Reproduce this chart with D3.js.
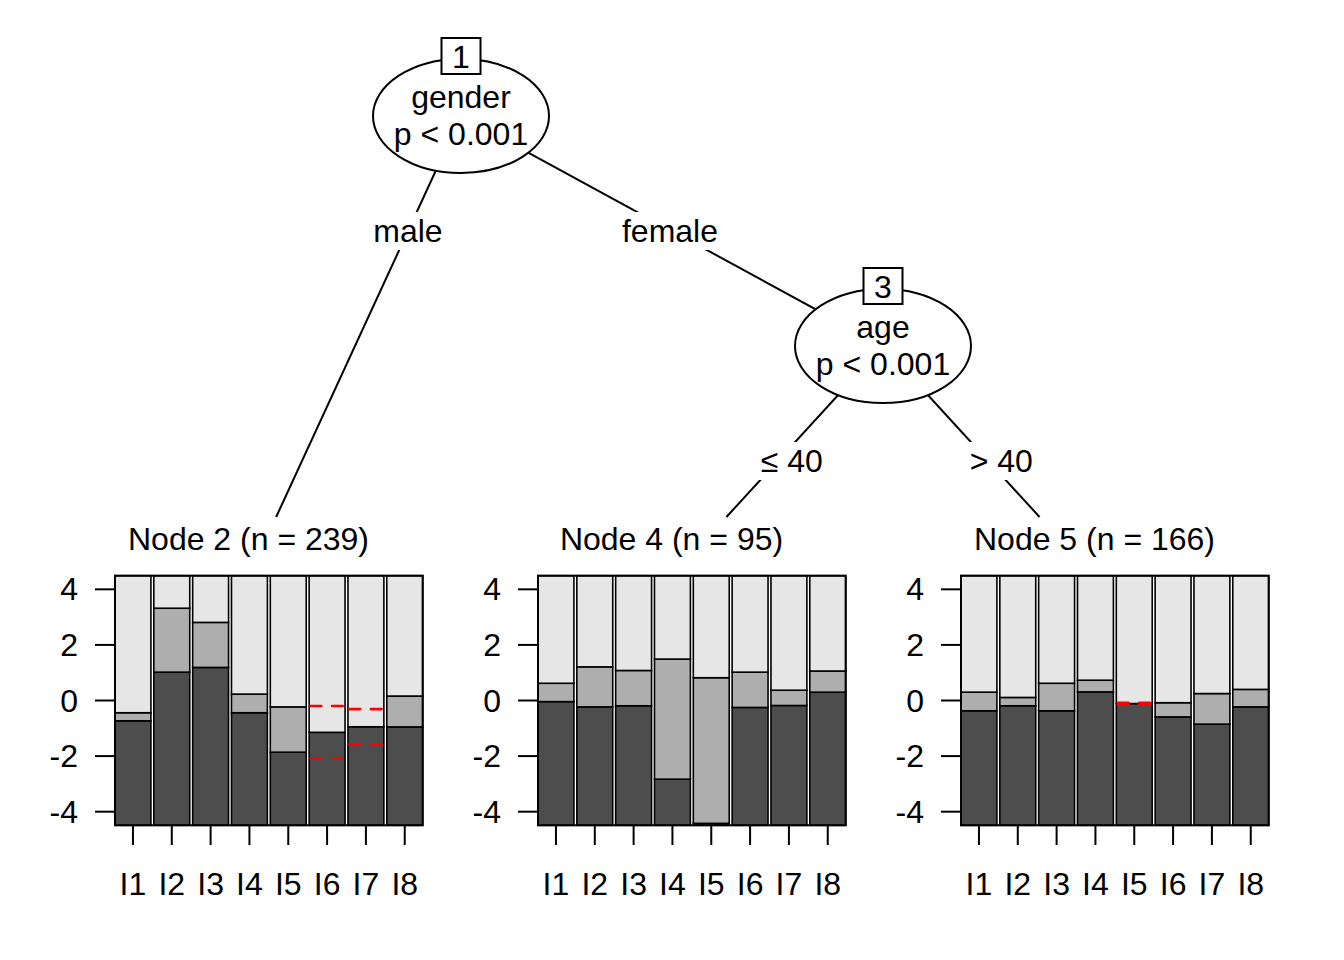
<!DOCTYPE html>
<html>
<head>
<meta charset="utf-8">
<script src="https://cdn.jsdelivr.net/npm/d3@7"></script>
<style>
  html, body { margin: 0; padding: 0; background: #ffffff; }
  svg { display: block; font-family: "Liberation Sans", Arial, Helvetica, sans-serif; }
</style>
</head>
<body>
<svg id="chart" width="1344" height="960"></svg>
<script>
// ---------------- DATA ----------------
const items = ["I1", "I2", "I3", "I4", "I5", "I6", "I7", "I8"];
const yTicks = [-4, -2, 0, 2, 4];

// Node 2 (gender = male), n = 239 : thresholds tau1, tau2
const node2Tau1 = [-0.73, 1.02, 1.19, -0.44, -1.86, -0.20, -0.31, -0.95];
const node2Tau2 = [-0.44, 3.32, 2.81, 0.23, -0.23, -2.09, -1.58, 0.16];
// Node 4 (female, age <= 40), n = 95
const node4Tau1 = [-0.04, -0.23, -0.19, -2.83, -4.42, -0.25, -0.18, 0.30];
const node4Tau2 = [0.62, 1.21, 1.08, 1.49, 0.82, 1.02, 0.37, 1.06];
// Node 5 (female, age > 40), n = 166
const node5Tau1 = [-0.37, -0.19, -0.37, 0.31, -0.08, -0.59, -0.85, -0.23];
const node5Tau2 = [0.30, 0.11, 0.62, 0.73, -0.14, -0.08, 0.25, 0.40];

const innerNodes = [
  { id: 1, variable: "gender", pText: "p < 0.001" },
  { id: 3, variable: "age", pText: "p < 0.001" }
];
const terminalNodes = [
  { id: 2, n: 239, tau1: node2Tau1, tau2: node2Tau2 },
  { id: 4, n: 95, tau1: node4Tau1, tau2: node4Tau2 },
  { id: 5, n: 166, tau1: node5Tau1, tau2: node5Tau2 }
];
const edges = [
  { from: 1, to: 2, label: "male" },
  { from: 1, to: 3, label: "female" },
  { from: 3, to: 4, label: "\u2264 40" },
  { from: 3, to: 5, label: "> 40" }
];
const yDomain = [-4.49, 4.49];
const regionColors = ["#4D4D4D", "#AEAEAE", "#E6E6E6"];

// ---------------- LAYOUT ----------------
const svg = d3.select("#chart");
const FS = 32;
const pos = {
  1: { x: 461, y: 116 },
  3: { x: 883, y: 346 },
  2: { x: 248.5, y: 577 },
  4: { x: 671.5, y: 577 },
  5: { x: 1094.5, y: 577 }
};
const clipY = 517;
const labelDx = { 2: 0, 3: -2, 4: 14, 5: 13 };
const rx = 88, ry = 57;

// edges
edges.forEach(e => {
  const p = pos[e.from], c = pos[e.to];
  const isTerminal = terminalNodes.some(t => t.id === e.to);
  let x2 = c.x, y2 = c.y;
  if (isTerminal) {
    const t = (clipY - p.y) / (c.y - p.y);
    x2 = p.x + (c.x - p.x) * t; y2 = clipY;
  }
  svg.append("line").attr("x1", p.x).attr("y1", p.y).attr("x2", x2).attr("y2", y2)
    .attr("stroke", "#000").attr("stroke-width", 2);
});
// edge labels
edges.forEach(e => {
  const p = pos[e.from], c = pos[e.to];
  const ly = (e.from === 1) ? 231 : 461;
  const t = (ly - p.y) / (c.y - p.y);
  const lx = p.x + (c.x - p.x) * t + labelDx[e.to];
  const g = svg.append("g");
  const txt = g.append("text").attr("x", lx).attr("y", ly)
    .attr("text-anchor", "middle").attr("dominant-baseline", "central")
    .attr("font-size", FS).attr("fill", "#000").text(e.label);
  const bb = txt.node().getBBox();
  g.insert("rect", "text").attr("x", bb.x - 2).attr("y", ly - 19).attr("width", bb.width + 4).attr("height", 38)
    .attr("fill", "#fff");
});

// inner nodes
innerNodes.forEach(nd => {
  const p = pos[nd.id];
  svg.append("ellipse").attr("cx", p.x).attr("cy", p.y).attr("rx", rx).attr("ry", ry)
    .attr("fill", "#fff").attr("stroke", "#000").attr("stroke-width", 2);
  svg.append("text").attr("x", p.x).attr("y", p.y - 19).attr("text-anchor", "middle")
    .attr("dominant-baseline", "central").attr("font-size", FS).text(nd.variable);
  svg.append("text").attr("x", p.x).attr("y", p.y + 18).attr("text-anchor", "middle")
    .attr("dominant-baseline", "central").attr("font-size", FS).text(nd.pText);
  svg.append("rect").attr("x", p.x - 19.5).attr("y", p.y - 78).attr("width", 39).attr("height", 36)
    .attr("fill", "#fff").attr("stroke", "#000").attr("stroke-width", 2);
  svg.append("text").attr("x", p.x).attr("y", p.y - 59).attr("text-anchor", "middle")
    .attr("dominant-baseline", "central").attr("font-size", FS).text(nd.id);
});

// terminal panels
const y = d3.scaleLinear().domain(yDomain).range([825.3, 575.7]);
terminalNodes.forEach(tn => {
  const cx = pos[tn.id].x;
  svg.append("text").attr("x", cx).attr("y", 539).attr("text-anchor", "middle")
    .attr("dominant-baseline", "central").attr("font-size", FS)
    .text(`Node ${tn.id} (n = ${tn.n})`);

  const left = cx - 133.5, right = left + 307.7;
  const x = d3.scaleBand().domain(items).range([left, right]).paddingInner(0.075).paddingOuter(0);
  const g = svg.append("g");

  items.forEach((it, i) => {
    const t1 = tn.tau1[i], t2 = tn.tau2[i];
    let segs;
    if (t1 <= t2) {
      segs = [[yDomain[0], t1, 0], [t1, t2, 1], [t2, yDomain[1], 2]];
    } else {
      const m = (t1 + t2) / 2;
      segs = [[yDomain[0], m, 0], [m, yDomain[1], 2]];
    }
    segs.forEach(s => {
      g.append("rect").attr("x", x(it)).attr("width", x.bandwidth())
        .attr("y", y(s[1])).attr("height", y(s[0]) - y(s[1]))
        .attr("fill", regionColors[s[2]]).attr("stroke", "#000").attr("stroke-width", 1.6);
    });
    if (t1 > t2) {
      [t1, t2].forEach(v => {
        g.append("line").attr("x1", x(it) + 1.5).attr("x2", x(it) + x.bandwidth() - 1.5)
          .attr("y1", y(v)).attr("y2", y(v))
          .attr("stroke", "#FF0000").attr("stroke-width", 2.6)
          .attr("stroke-dasharray", "10.7,10.7").attr("stroke-linecap", "round");
      });
    }
  });
  // frame
  g.append("rect").attr("x", left).attr("y", 575.7).attr("width", right - left).attr("height", 825.3 - 575.7)
    .attr("fill", "none").attr("stroke", "#000").attr("stroke-width", 2);

  // y axis
  const ya = svg.append("g");
  yTicks.forEach(v => {
    ya.append("line").attr("x1", left - 20).attr("x2", left).attr("y1", y(v)).attr("y2", y(v))
      .attr("stroke", "#000").attr("stroke-width", 2);
    ya.append("text").attr("x", left - 37).attr("y", y(v)).attr("text-anchor", "end")
      .attr("dominant-baseline", "central").attr("font-size", FS).text(v);
  });
  // x axis
  items.forEach(it => {
    const bx = x(it) + x.bandwidth() / 2;
    svg.append("line").attr("x1", bx).attr("x2", bx).attr("y1", 825.3).attr("y2", 845)
      .attr("stroke", "#000").attr("stroke-width", 2);
    svg.append("text").attr("x", bx).attr("y", 884).attr("text-anchor", "middle")
      .attr("dominant-baseline", "central").attr("font-size", FS).text(it);
  });
});
</script>
</body>
</html>
